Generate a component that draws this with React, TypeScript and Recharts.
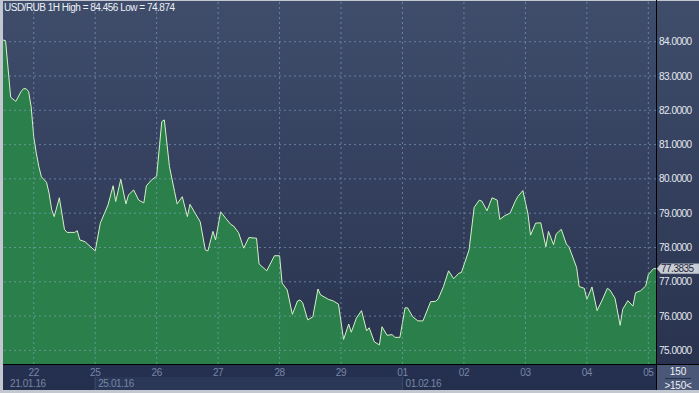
import { AreaChart, Area, XAxis, YAxis, ReferenceLine } from 'recharts'

// ─── Data: USD/RUB hourly closes, x = trading hour since 21.01.16 12:00 ─────

const HOURS = [
  0, 1, 3, 5, 7, 8, 9, 10, 11, 12, 13, 14, 15, 17, 18, 19, 20, 22, 24, 25,
  28, 29, 30, 32, 36, 38, 41, 43, 44, 46, 48, 49, 51, 53, 55, 56, 58, 60, 62, 63,
  65, 67, 68, 70, 72, 73, 77, 79, 80, 82, 83, 85, 87, 89, 90, 92, 94, 96, 99, 100,
  103, 106, 108, 109, 111, 113, 115, 116, 117, 119, 121, 123, 124, 127, 129, 131, 133, 135, 136, 138,
  140, 142, 143, 145, 147, 148, 150, 152, 153, 155, 157, 158, 160, 162, 164, 167, 169, 170, 172, 174,
  176, 178, 179, 182, 184, 186, 187, 189, 191, 193, 194, 196, 198, 200, 201, 203, 205, 206, 208, 210,
  212, 213, 215, 216, 218, 220, 221, 224, 225, 227, 228, 230, 232, 234, 236, 237, 239, 241, 242, 244,
  246, 247, 249, 251, 252, 254, 255,
]

const RATES = [
  84.05, 84.03, 82.38, 82.26, 82.54, 82.63, 82.63, 82.55, 82.1, 81.23, 80.75, 80.36, 80.06, 79.9, 79.58, 79.11, 78.9, 79.45, 78.53, 78.44,
  78.44, 78.49, 78.22, 78.17, 77.9, 78.71, 79.24, 79.8, 79.34, 79.99, 79.27, 79.53, 79.68, 79.38, 79.3, 79.8, 79.97, 80.08, 81.67, 81.72,
  80.36, 79.63, 79.27, 79.48, 78.9, 79.26, 78.75, 77.93, 77.9, 78.47, 78.22, 79.04, 78.85, 78.67, 78.63, 78.43, 77.98, 78.29, 78.27, 77.52,
  77.32, 77.76, 77.76, 76.96, 76.76, 76.05, 76.44, 76.47, 76.39, 75.89, 75.98, 76.79, 76.62, 76.49, 76.44, 76.35, 75.32, 75.77, 75.53, 75.94,
  76.16, 75.57, 75.66, 75.25, 75.16, 75.69, 75.44, 75.46, 75.38, 75.38, 76.24, 76.24, 75.98, 75.86, 75.86, 76.42, 76.43, 76.51, 76.86, 77.32,
  77.09, 77.25, 77.27, 77.93, 79.17, 79.38, 79.35, 79.07, 79.45, 79.38, 78.82, 78.93, 79.0, 79.34, 79.48, 79.66, 78.98, 78.36, 78.71, 78.72,
  78.02, 78.47, 78.08, 78.39, 78.53, 78.1, 78.02, 77.42, 76.86, 76.81, 76.49, 76.85, 76.16, 76.47, 76.81, 76.76, 76.52, 75.73, 76.2, 76.45,
  76.29, 76.68, 76.74, 76.88, 77.21, 77.38, 77.3835,
]

const DAY_HOURS = [12, 36, 60, 84, 108, 132, 156, 180, 204, 228, 252]
const DAY_LABELS = ['22', '25', '26', '27', '28', '29', '01', '02', '03', '04', '05']
const WEEK_HOURS = [0, 36, 156]
const WEEK_LABELS = ['21.01.16', '25.01.16', '01.02.16']
const PRICE_TICKS = [75, 76, 77, 78, 79, 80, 81, 82, 83, 84]

const TITLE = 'USD/RUB 1H High = 84.456 Low = 74.874'
const LAST = RATES[RATES.length - 1]

const data = HOURS.map((h, i) => ({ h, rate: RATES[i] }))
const xTicks = Array.from(new Set([...WEEK_HOURS, ...DAY_HOURS])).sort((a, b) => a - b)

const FONT = '"Liberation Sans", Arial, sans-serif'
const GRID = 'rgba(140,175,215,0.55)'

// ─── Ticks ───────────────────────────────────────────────────────────────────

function DayTick(props: { x?: number; y?: number; payload?: { value: number } }) {
  const { x = 0, payload } = props
  const v = payload?.value ?? 0
  const di = DAY_HOURS.indexOf(v)
  const wi = WEEK_HOURS.indexOf(v)
  return (
    <g>
      {di >= 0 && (
        <text x={x} y={376} textAnchor="middle" fill="#7886a6" fontSize={10} fontFamily={FONT} letterSpacing={-0.4}>
          {DAY_LABELS[di]}
        </text>
      )}
      {wi > 0 && <line x1={x} x2={x} y1={377} y2={390} stroke="#3d4a68" />}
      {wi >= 0 && (
        <text x={x + (wi === 0 ? 7 : 3)} y={387} textAnchor="start" fill="#7886a6" fontSize={10} fontFamily={FONT} letterSpacing={-0.4}>
          {WEEK_LABELS[wi]}
        </text>
      )}
    </g>
  )
}

function PriceTick(props: { x?: number; y?: number; payload?: { value: number } }) {
  const { y = 0, payload } = props
  return (
    <text x={659} y={y + 3.6} fill="#e4e9f2" fontSize={10} fontFamily={FONT} letterSpacing={-0.5}>
      {(payload?.value ?? 0).toFixed(4)}
    </text>
  )
}

function LastBadge(props: { viewBox?: { x: number; y: number; width: number } }) {
  const vb = props.viewBox
  if (!vb) return null
  const left = vb.x + vb.width + 1
  const y = vb.y
  return (
    <g>
      <polygon
        points={`${left},${y} ${left + 4},${y - 5} 699,${y - 5} 699,${y + 5} ${left + 4},${y + 5}`}
        fill="#c9cdd5"
        stroke="#9aa1ae"
        strokeWidth={0.5}
      />
      <text x={left + 4} y={y + 3.6} fill="#1d2438" fontSize={10} fontFamily={FONT} letterSpacing={-0.5}>
        {LAST.toFixed(4)}
      </text>
    </g>
  )
}

// ═════════════════════════════════════════════════════════════════════════════

export default function App() {
  return (
    <div style={{ position: 'absolute', left: 0, top: 0, width: 699, height: 393, background: '#c3c7cf', overflow: 'hidden' }}>
      {/* panels */}
      <div style={{ position: 'absolute', left: 3, top: 1, width: 696, height: 363, background: 'linear-gradient(#3f4d6b, #29334f)' }} />
      <div style={{ position: 'absolute', left: 3, top: 365, width: 653, height: 12, background: '#253050' }} />
      <div style={{ position: 'absolute', left: 3, top: 377, width: 653, height: 13, background: '#242f4d' }} />
      <div style={{ position: 'absolute', left: 95, top: 377, width: 308, height: 13, background: '#2b3756' }} />
      <div style={{ position: 'absolute', left: 657, top: 365, width: 42, height: 25, background: '#4a5777' }} />
      <div style={{ position: 'absolute', left: 3, top: 364, width: 696, height: 1, background: '#000' }} />
      <div style={{ position: 'absolute', left: 656, top: 0, width: 1, height: 390, background: '#000' }} />

      <div style={{ position: 'absolute', left: 0, top: 0 }}>
        <AreaChart width={699} height={393} data={data} margin={{ top: 1, right: 0, bottom: 0, left: 3 }}>
          <XAxis
            dataKey="h"
            type="number"
            domain={[0, 255]}
            ticks={xTicks}
            height={29}
            axisLine={false}
            tickLine={false}
            tick={<DayTick />}
            interval={0}
          />
          <YAxis
            orientation="right"
            type="number"
            domain={[74.603, 85.187]}
            ticks={PRICE_TICKS}
            width={43}
            axisLine={false}
            tickLine={false}
            tick={<PriceTick />}
            interval={0}
          />
          <Area
            type="linear"
            dataKey="rate"
            stroke="#d4f3c4"
            strokeWidth={1}
            fill="#2b7f4b"
            fillOpacity={1}
            isAnimationActive={false}
            dot={false}
            activeDot={false}
          />
          {PRICE_TICKS.map((p) => (
            <ReferenceLine key={`p${p}`} y={p} stroke={GRID} strokeDasharray="2 3" />
          ))}
          {DAY_HOURS.map((h) => (
            <ReferenceLine key={`d${h}`} x={h} stroke={GRID} strokeDasharray="2 3" />
          ))}
          <ReferenceLine y={LAST} stroke="none" label={<LastBadge />} />
        </AreaChart>
      </div>

      <div style={{ position: 'absolute', left: 4, top: 2, color: '#edf1f7', fontSize: 10, fontFamily: FONT, letterSpacing: -0.5, whiteSpace: 'nowrap' }}>
        {TITLE}
      </div>
      <div style={{ position: 'absolute', left: 657, top: 366, width: 42, textAlign: 'center', color: '#eef2f8', fontSize: 10, fontFamily: FONT, lineHeight: '11px' }}>
        <div>150</div>
        <div style={{ margin: '1px 8px', height: 1, background: '#26304a' }} />
        <div style={{ letterSpacing: -0.3 }}>&gt;150&lt;</div>
      </div>
    </div>
  )
}
